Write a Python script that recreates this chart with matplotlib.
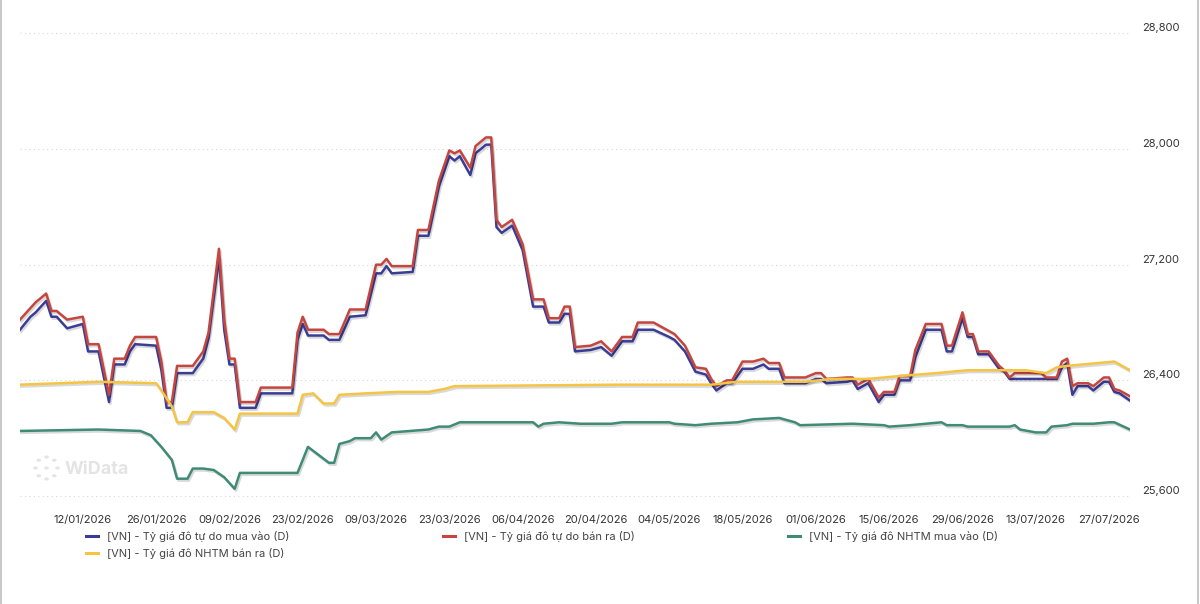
import matplotlib
matplotlib.use("Agg")
import matplotlib.pyplot as plt
import matplotlib.dates as mdates
import matplotlib.patheffects as pe
from matplotlib.ticker import FuncFormatter
from matplotlib.patches import Circle
from matplotlib.lines import Line2D
import numpy as np
import pandas as pd

plt.rcParams['font.family'] = ['Inter', 'DejaVu Sans']
plt.rcParams['ytick.alignment'] = 'bottom'

# free market rate (buy / sell)
free_dates = [
  "2025-12-31", "2026-01-02", "2026-01-03", "2026-01-05", "2026-01-06", "2026-01-07",
  "2026-01-09", "2026-01-12", "2026-01-13", "2026-01-15", "2026-01-17", "2026-01-18",
  "2026-01-20", "2026-01-21", "2026-01-22", "2026-01-26", "2026-01-27", "2026-01-28",
  "2026-01-29", "2026-01-30", "2026-02-02", "2026-02-04", "2026-02-05", "2026-02-07",
  "2026-02-08", "2026-02-09", "2026-02-10", "2026-02-11", "2026-02-14", "2026-02-15",
  "2026-02-21", "2026-02-22", "2026-02-23", "2026-02-24", "2026-02-27", "2026-02-28",
  "2026-03-02", "2026-03-04", "2026-03-07", "2026-03-09", "2026-03-10", "2026-03-11",
  "2026-03-12", "2026-03-16", "2026-03-17", "2026-03-19", "2026-03-21", "2026-03-23",
  "2026-03-24", "2026-03-25", "2026-03-27", "2026-03-28", "2026-03-30", "2026-03-31",
  "2026-04-01", "2026-04-02", "2026-04-04", "2026-04-06", "2026-04-08", "2026-04-10",
  "2026-04-11", "2026-04-13", "2026-04-14", "2026-04-15", "2026-04-16", "2026-04-19",
  "2026-04-21", "2026-04-23", "2026-04-25", "2026-04-27", "2026-04-28", "2026-05-01",
  "2026-05-04", "2026-05-05", "2026-05-07", "2026-05-09", "2026-05-11", "2026-05-12",
  "2026-05-13", "2026-05-15", "2026-05-16", "2026-05-18", "2026-05-20", "2026-05-22",
  "2026-05-23", "2026-05-25", "2026-05-26", "2026-05-30", "2026-06-01", "2026-06-02",
  "2026-06-03", "2026-06-07", "2026-06-08", "2026-06-09", "2026-06-11", "2026-06-13",
  "2026-06-14", "2026-06-16", "2026-06-17", "2026-06-19", "2026-06-20", "2026-06-22",
  "2026-06-25", "2026-06-26", "2026-06-27", "2026-06-29", "2026-06-30", "2026-07-01",
  "2026-07-02", "2026-07-04", "2026-07-06", "2026-07-07", "2026-07-08", "2026-07-09",
  "2026-07-14", "2026-07-15", "2026-07-17", "2026-07-18", "2026-07-19", "2026-07-20",
  "2026-07-21", "2026-07-23", "2026-07-24", "2026-07-26", "2026-07-27", "2026-07-28",
  "2026-07-29", "2026-07-31",
]
free_buy = [
  26750, 26840, 26870, 26950, 26840, 26840,
  26760, 26790, 26600, 26600, 26250, 26510,
  26510, 26600, 26650, 26640, 26470, 26210,
  26210, 26450, 26450, 26550, 26690, 27250,
  26750, 26510, 26510, 26210, 26210, 26310,
  26310, 26680, 26790, 26710, 26710, 26680,
  26680, 26840, 26850, 27140, 27140, 27190,
  27140, 27150, 27400, 27400, 27740, 27950,
  27920, 27950, 27820, 27970, 28030, 28030,
  27460, 27420, 27470, 27300, 26910, 26910,
  26800, 26800, 26860, 26860, 26600, 26610,
  26630, 26570, 26670, 26670, 26750, 26750,
  26700, 26680, 26600, 26460, 26440, 26380,
  26330, 26380, 26380, 26480, 26480, 26510,
  26480, 26480, 26380, 26380, 26410, 26410,
  26380, 26390, 26400, 26340, 26380, 26250,
  26300, 26300, 26400, 26400, 26560, 26750,
  26750, 26600, 26600, 26830, 26700, 26700,
  26580, 26580, 26480, 26460, 26410, 26410,
  26410, 26410, 26410, 26490, 26520, 26300,
  26360, 26360, 26330, 26390, 26390, 26320,
  26310, 26260,
]
free_sell = [
  26820, 26900, 26940, 27000, 26880, 26880,
  26820, 26840, 26650, 26650, 26300, 26550,
  26550, 26640, 26700, 26700, 26530, 26250,
  26250, 26500, 26500, 26600, 26730, 27310,
  26820, 26550, 26550, 26250, 26250, 26350,
  26350, 26730, 26840, 26750, 26750, 26720,
  26720, 26890, 26890, 27200, 27200, 27240,
  27190, 27190, 27440, 27440, 27780, 27990,
  27970, 27990, 27870, 28020, 28080, 28080,
  27510, 27460, 27510, 27340, 26960, 26960,
  26830, 26830, 26910, 26910, 26630, 26640,
  26670, 26600, 26700, 26700, 26800, 26800,
  26740, 26720, 26640, 26490, 26480, 26410,
  26360, 26400, 26400, 26530, 26530, 26550,
  26520, 26520, 26420, 26420, 26450, 26450,
  26410, 26420, 26420, 26370, 26410, 26280,
  26320, 26320, 26430, 26430, 26610, 26790,
  26790, 26640, 26640, 26870, 26720, 26720,
  26600, 26600, 26500, 26470, 26420, 26450,
  26450, 26420, 26420, 26530, 26550, 26360,
  26380, 26380, 26360, 26420, 26420, 26340,
  26330, 26290,
]

# commercial bank rate (sell)
bank_sell_dates = [
  "2025-12-31", "2026-01-15", "2026-01-26", "2026-01-27", "2026-01-29", "2026-01-30",
  "2026-02-01", "2026-02-02", "2026-02-04", "2026-02-06", "2026-02-08", "2026-02-10",
  "2026-02-11", "2026-02-22", "2026-02-23", "2026-02-25", "2026-02-27", "2026-03-01",
  "2026-03-02", "2026-03-07", "2026-03-13", "2026-03-19", "2026-03-22", "2026-03-24",
  "2026-04-24", "2026-05-12", "2026-05-17", "2026-05-30", "2026-06-04", "2026-06-11",
  "2026-06-17", "2026-06-24", "2026-06-30", "2026-07-11", "2026-07-15", "2026-07-17",
  "2026-07-19", "2026-07-25", "2026-07-28", "2026-07-29", "2026-07-31",
]
bank_sell = [
  26370, 26390, 26380, 26330, 26220, 26110,
  26110, 26180, 26180, 26180, 26140, 26060,
  26170, 26170, 26300, 26310, 26240, 26240,
  26300, 26310, 26320, 26320, 26340, 26360,
  26370, 26370, 26390, 26390, 26410, 26410,
  26430, 26450, 26470, 26470, 26450, 26490,
  26500, 26520, 26530, 26510, 26470,
]

# commercial bank rate (buy)
bank_buy_dates = [
  "2025-12-31", "2026-01-15", "2026-01-23", "2026-01-25", "2026-01-27", "2026-01-29",
  "2026-01-30", "2026-02-01", "2026-02-02", "2026-02-04", "2026-02-06", "2026-02-08",
  "2026-02-10", "2026-02-11", "2026-02-22", "2026-02-24", "2026-02-28", "2026-03-01",
  "2026-03-02", "2026-03-04", "2026-03-05", "2026-03-08", "2026-03-09", "2026-03-10",
  "2026-03-12", "2026-03-19", "2026-03-21", "2026-03-23", "2026-03-25", "2026-04-08",
  "2026-04-09", "2026-04-10", "2026-04-13", "2026-04-17", "2026-04-23", "2026-04-25",
  "2026-05-04", "2026-05-05", "2026-05-09", "2026-05-12", "2026-05-17", "2026-05-20",
  "2026-05-25", "2026-05-26", "2026-05-28", "2026-05-29", "2026-06-08", "2026-06-14",
  "2026-06-15", "2026-06-19", "2026-06-25", "2026-06-26", "2026-06-29", "2026-06-30",
  "2026-07-08", "2026-07-09", "2026-07-10", "2026-07-13", "2026-07-15", "2026-07-16",
  "2026-07-19", "2026-07-20", "2026-07-24", "2026-07-27", "2026-07-28", "2026-07-31",
]
bank_buy = [
  26050, 26060, 26050, 26020, 25940, 25850,
  25720, 25720, 25790, 25790, 25780, 25730,
  25650, 25760, 25760, 25940, 25830, 25830,
  25960, 25980, 26000, 26000, 26040, 25990,
  26040, 26060, 26080, 26080, 26110, 26110,
  26080, 26100, 26110, 26100, 26100, 26110,
  26110, 26100, 26090, 26100, 26110, 26130,
  26140, 26130, 26110, 26090, 26100, 26090,
  26080, 26090, 26110, 26090, 26090, 26080,
  26080, 26090, 26060, 26040, 26040, 26080,
  26090, 26100, 26100, 26110, 26110, 26060,
]

series_labels = [
  "[VN] - Tỷ giá đô tự do mua vào (D)",
  "[VN] - Tỷ giá đô tự do bán ra (D)",
  "[VN] - Tỷ giá đô NHTM mua vào (D)",
  "[VN] - Tỷ giá đô NHTM bán ra (D)",
]
colors = ["#3a3d96", "#c4463f", "#3f8b74", "#f5c443"]
y_ticks = [25600, 26400, 27200, 28000, 28800]

fig = plt.figure(figsize=(12, 6.04), dpi=100)
ax = fig.add_axes([20 / 1200, 1 - 505 / 604, 1110 / 1200, 485 / 604])

shadow = [pe.SimpleLineShadow(offset=(1.0, -1.4), shadow_color="#000000", alpha=0.15),
          pe.Normal()]

series = [
  (free_dates, free_buy),
  (free_dates, free_sell),
  (bank_buy_dates, bank_buy),
  (bank_sell_dates, bank_sell),
]
for (d, v), c in zip(series, colors):
  ax.plot(pd.to_datetime(d), v, color=c, lw=1.8,
          solid_joinstyle="round", path_effects=shadow)

ax.set_xlim(pd.Timestamp("2025-12-31"), pd.Timestamp("2026-07-31"))
ax.set_ylim(25538, 28892)

ax.set_xticks(pd.date_range("2026-01-12", "2026-07-27", freq="14D"))
ax.xaxis.set_major_formatter(mdates.DateFormatter("%d/%m/%Y"))
ax.yaxis.tick_right()
ax.set_yticks(y_ticks)
ax.yaxis.set_major_formatter(FuncFormatter(lambda v, p: f"{int(v):,}"))
ax.tick_params(axis="both", length=0, labelsize=8, labelcolor="#333333")
ax.tick_params(axis="y", pad=9)
ax.tick_params(axis="x", pad=7)
ax.grid(axis="y", linestyle=(0, (1, 3)), color="#d6d6d6", lw=0.8)
for s in ax.spines.values():
  s.set_visible(False)

# watermark
fig.text(65 / 1200, 1 - 469 / 604, "WiData", fontsize=13, fontweight="bold",
         color="#e4e4e4", va="center", ha="left")
for a in np.linspace(0, 2 * np.pi, 8, endpoint=False):
  fig.patches.append(Circle((46.5 / 1200 + 11 * np.cos(a) / 1200, 1 - 468 / 604 + 11 * np.sin(a) / 604),
                            1.6 / 1200, transform=fig.transFigure, color="#e4e4e4"))
fig.patches.append(Circle((46.5 / 1200, 1 - 468 / 604), 1.6 / 1200,
                          transform=fig.transFigure, color="#e4e4e4"))

# legend: plain handles, row-wise order like the original
handles = [Line2D([], [], color=c, lw=2.2) for c in colors]
order = [0, 3, 1, 2]
fig.legend([handles[i] for i in order], [series_labels[i] for i in order],
           loc="upper left", bbox_to_anchor=(86 / 1200, 1 - 531 / 604), ncol=3,
           frameon=False, fontsize=8, labelcolor="#444444", handlelength=1.1,
           handletextpad=0.8, columnspacing=13.8, labelspacing=0.55,
           borderpad=0, borderaxespad=0)

# card border, left and right edges only
fig.add_artist(Line2D([0.001, 0.001], [0, 1], transform=fig.transFigure, color="#c9c9c9", lw=1.5))
fig.add_artist(Line2D([0.998, 0.998], [0, 1], transform=fig.transFigure, color="#c9c9c9", lw=1.5))

fig.savefig("out.png", dpi=100)
